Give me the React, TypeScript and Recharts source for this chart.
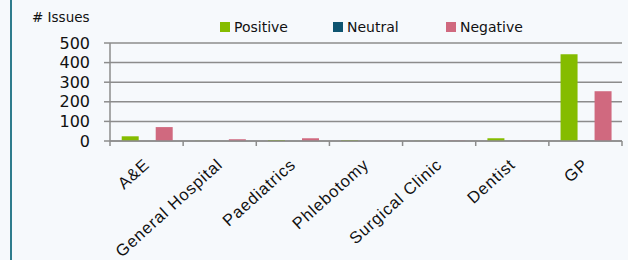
import React from 'react';
import { BarChart, Bar, XAxis, YAxis, CartesianGrid } from 'recharts';

const categories = ['A&E', 'General Hospital', 'Paediatrics', 'Phlebotomy', 'Surgical Clinic', 'Dentist', 'GP'];
const positive = [24, 1, 5, 4, 1, 14, 442];
const neutral = [0, 0, 0, 0, 0, 0, 1];
const negative = [71, 9, 14, 1, 2, 2, 254];
const yTicks = [0, 100, 200, 300, 400, 500];

const seriesInfo = [
  { key: 'positive', name: 'Positive', color: '#85BC00' },
  { key: 'neutral', name: 'Neutral', color: '#0E5470' },
  { key: 'negative', name: 'Negative', color: '#D0697F' },
];

const data = categories.map((c, i) => ({
  category: c,
  positive: positive[i],
  neutral: neutral[i],
  negative: negative[i],
}));

const GRID = '#8C8C8C';

const XTick = (props: any) => {
  const { x, y, payload, index } = props;
  const half = payload && payload.offset ? payload.offset : 36.57;
  const tx = x + 4;
  const ty = y + 20;
  return (
    <g>
      <line x1={x - half} x2={x - half} y1={y - 5} y2={y} stroke={GRID} strokeWidth={1.5} />
      {index === categories.length - 1 && (
        <line x1={x + half} x2={x + half} y1={y - 5} y2={y} stroke={GRID} strokeWidth={1.5} />
      )}
      <text
        x={tx}
        y={ty}
        transform={`rotate(-42, ${tx}, ${ty})`}
        textAnchor="end"
        fontFamily="'Liberation Sans', Arial, sans-serif"
        fontSize={16.5}
        letterSpacing={0.9}
        fill="#111"
      >
        {payload.value}
      </text>
    </g>
  );
};

export default function App() {
  return (
    <div style={{ position: 'absolute', left: 0, top: 0, width: 628, height: 260, background: '#F6F9FC', overflow: 'hidden' }}>
      <div style={{ position: 'absolute', left: 10, top: 0, width: 2, height: 260, background: '#2E7C8D' }} />
      <div
        style={{
          position: 'absolute',
          left: 32,
          top: 9,
          fontFamily: "'DejaVu Sans', sans-serif",
          fontSize: 13.5,
          color: '#111',
          lineHeight: '16px',
        }}
      >
        # Issues
      </div>
      <div
        style={{
          position: 'absolute',
          left: 220,
          top: 18,
          display: 'flex',
          fontFamily: "'DejaVu Sans', sans-serif",
          fontSize: 14,
          color: '#111',
          lineHeight: '18px',
        }}
      >
        {seriesInfo.map((s) => (
          <div key={s.key} style={{ width: 113, display: 'flex', alignItems: 'center' }}>
            <span style={{ display: 'inline-block', width: 10, height: 10, background: s.color, marginRight: 4 }} />
            <span>{s.name}</span>
          </div>
        ))}
      </div>
      <BarChart
        width={628}
        height={260}
        data={data}
        margin={{ top: 43, right: 6, left: 0, bottom: 0 }}
        barCategoryGap="16%"
        barGap={0}
      >
        <CartesianGrid horizontal vertical={false} stroke={GRID} strokeWidth={1.5} />
        <XAxis
          dataKey="category"
          height={119}
          interval={0}
          axisLine={{ stroke: GRID, strokeWidth: 1.5 }}
          tickLine={false}
          tickSize={5}
          tickMargin={0}
          tick={<XTick />}
        />
        <YAxis
          width={110}
          domain={[0, 500]}
          ticks={yTicks}
          interval={0}
          axisLine={{ stroke: GRID, strokeWidth: 1.5 }}
          tickLine={{ stroke: GRID, strokeWidth: 1.5 }}
          tickSize={6}
          tickMargin={14}
          tick={{ fontFamily: "'DejaVu Sans', sans-serif", fontSize: 16, fill: '#111' }}
        />
        {seriesInfo.map((s) => (
          <Bar key={s.key} dataKey={s.key} name={s.name} fill={s.color} isAnimationActive={false} />
        ))}
      </BarChart>
    </div>
  );
}
